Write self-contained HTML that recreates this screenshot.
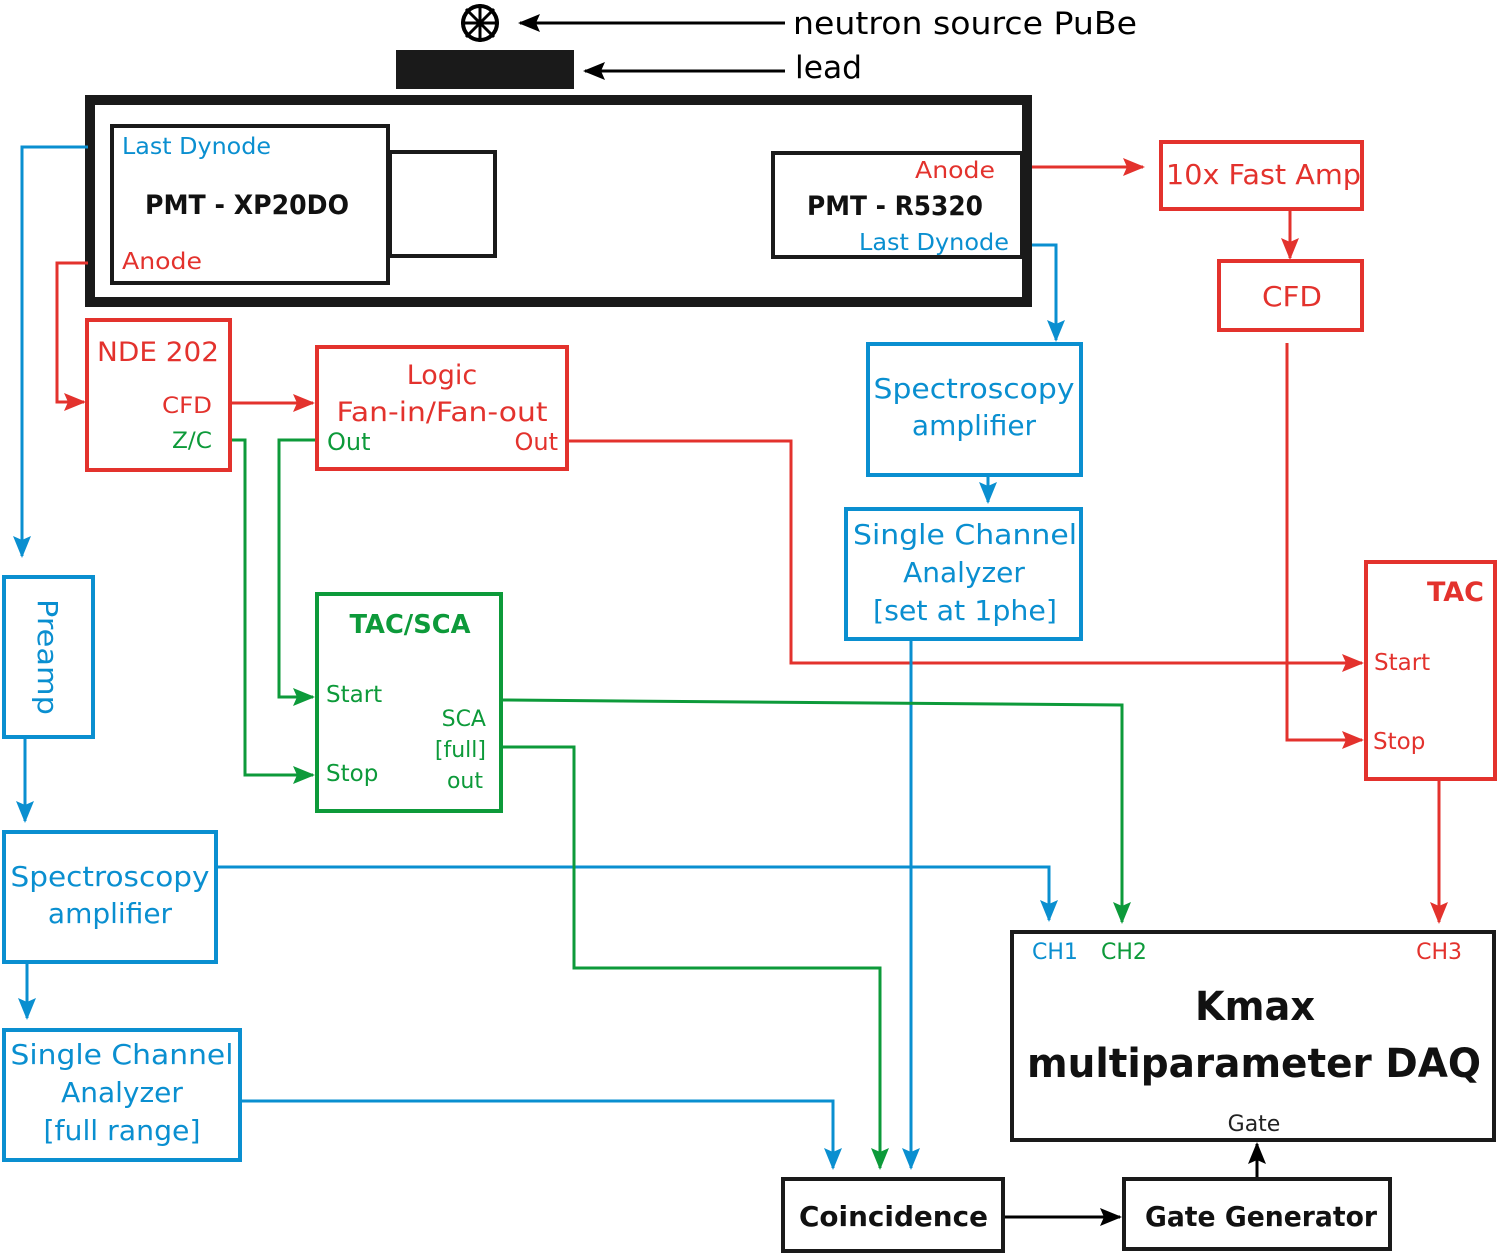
<!DOCTYPE html>
<html><head><meta charset="utf-8"><style>
html,body{margin:0;padding:0;background:#fff;}
svg{display:block;}
text{font-family:"DejaVu Sans","Liberation Sans",sans-serif;}
</style></head><body>
<svg width="1499" height="1256" viewBox="0 0 1499 1256" xmlns="http://www.w3.org/2000/svg">
<defs>
<marker id="ar" markerWidth="22" markerHeight="22" refX="20" refY="11" orient="auto" markerUnits="userSpaceOnUse"><path d="M0,2 L22,11 L0,20 L4,11 z" fill="#e3322d"/></marker>
<marker id="ab" markerWidth="22" markerHeight="22" refX="20" refY="11" orient="auto" markerUnits="userSpaceOnUse"><path d="M0,2 L22,11 L0,20 L4,11 z" fill="#0a8fd0"/></marker>
<marker id="ag" markerWidth="22" markerHeight="22" refX="20" refY="11" orient="auto" markerUnits="userSpaceOnUse"><path d="M0,2 L22,11 L0,20 L4,11 z" fill="#0d9a3a"/></marker>
<marker id="ak2" markerWidth="22" markerHeight="22" refX="20" refY="11" orient="auto" markerUnits="userSpaceOnUse"><path d="M0,2 L22,11 L0,20 L4,11 z" fill="#000"/></marker>
</defs>
<!-- top -->
<circle cx="480" cy="23" r="17" fill="none" stroke="#000" stroke-width="4"/>
<path d="M466,9 L494,37 M494,9 L466,37 M480,4 L480,42 M461,23 L499,23" stroke="#000" stroke-width="3"/>
<line x1="785" y1="23" x2="520" y2="23" stroke="#000" stroke-width="3" marker-end="url(#ak2)"/>
<text x="793" y="34" font-size="31" textLength="344" lengthAdjust="spacingAndGlyphs">neutron source PuBe</text>
<rect x="396" y="50" width="178" height="39" fill="#1a1a1a"/>
<line x1="785" y1="71" x2="585" y2="71" stroke="#000" stroke-width="3" marker-end="url(#ak2)"/>
<text x="795" y="78" font-size="31" textLength="67" lengthAdjust="spacingAndGlyphs">lead</text>
<!-- housing -->
<rect x="90" y="100" width="937" height="202" fill="none" stroke="#1a1a1a" stroke-width="10"/>
<rect x="112" y="126" width="276" height="157" fill="none" stroke="#1a1a1a" stroke-width="4"/>
<rect x="390" y="152" width="105" height="104" fill="none" stroke="#1a1a1a" stroke-width="4"/>
<text x="122" y="154" font-size="23" fill="#0a8fd0" textLength="149" lengthAdjust="spacingAndGlyphs">Last Dynode</text>
<text x="145" y="214" font-size="27" fill="#111" font-weight="bold" textLength="204" lengthAdjust="spacingAndGlyphs">PMT - XP20DO</text>
<text x="122" y="269" font-size="23" fill="#e3322d" textLength="80" lengthAdjust="spacingAndGlyphs">Anode</text>
<rect x="773" y="153" width="249" height="104" fill="#fff" stroke="#1a1a1a" stroke-width="4"/>
<text x="915" y="178" font-size="23" fill="#e3322d" textLength="80" lengthAdjust="spacingAndGlyphs">Anode</text>
<text x="807" y="215" font-size="27" fill="#111" font-weight="bold" textLength="176" lengthAdjust="spacingAndGlyphs">PMT - R5320</text>
<text x="859" y="250" font-size="23" fill="#0a8fd0" textLength="150" lengthAdjust="spacingAndGlyphs">Last Dynode</text>
<!-- red connectors -->
<polyline points="88,263 57,263 57,402 84,402" fill="none" stroke="#e3322d" stroke-width="3" marker-end="url(#ar)"/>
<line x1="231" y1="403" x2="313" y2="403" stroke="#e3322d" stroke-width="3" marker-end="url(#ar)"/>
<polyline points="568,441 791,441 791,663 1362,663" fill="none" stroke="#e3322d" stroke-width="3" marker-end="url(#ar)"/>
<line x1="1032" y1="167" x2="1143" y2="167" stroke="#e3322d" stroke-width="3" marker-end="url(#ar)"/>
<line x1="1290" y1="211" x2="1290" y2="258" stroke="#e3322d" stroke-width="3" marker-end="url(#ar)"/>
<polyline points="1287,343 1287,740 1362,740" fill="none" stroke="#e3322d" stroke-width="3" marker-end="url(#ar)"/>
<line x1="1439" y1="780" x2="1439" y2="922" stroke="#e3322d" stroke-width="3" marker-end="url(#ar)"/>
<!-- blue connectors -->
<polyline points="88,147 22,147 22,556" fill="none" stroke="#0a8fd0" stroke-width="3" marker-end="url(#ab)"/>
<polyline points="1032,245 1056,245 1056,340" fill="none" stroke="#0a8fd0" stroke-width="3" marker-end="url(#ab)"/>
<line x1="988" y1="476" x2="988" y2="502" stroke="#0a8fd0" stroke-width="3" marker-end="url(#ab)"/>
<line x1="911" y1="640" x2="911" y2="1168" stroke="#0a8fd0" stroke-width="3" marker-end="url(#ab)"/>
<line x1="25" y1="738" x2="25" y2="821" stroke="#0a8fd0" stroke-width="3" marker-end="url(#ab)"/>
<polyline points="217,867 1049,867 1049,920" fill="none" stroke="#0a8fd0" stroke-width="3" marker-end="url(#ab)"/>
<line x1="27" y1="963" x2="27" y2="1018" stroke="#0a8fd0" stroke-width="3" marker-end="url(#ab)"/>
<polyline points="241,1101 833,1101 833,1168" fill="none" stroke="#0a8fd0" stroke-width="3" marker-end="url(#ab)"/>
<!-- green connectors -->
<polyline points="231,440 245,440 245,775 313,775" fill="none" stroke="#0d9a3a" stroke-width="3" marker-end="url(#ag)"/>
<polyline points="316,440 279,440 279,697 313,697" fill="none" stroke="#0d9a3a" stroke-width="3" marker-end="url(#ag)"/>
<polyline points="502,700 1122,705 1122,922" fill="none" stroke="#0d9a3a" stroke-width="3" marker-end="url(#ag)"/>
<polyline points="502,747 574,747 574,968 880,968 880,1168" fill="none" stroke="#0d9a3a" stroke-width="3" marker-end="url(#ag)"/>
<!-- black connectors -->
<line x1="1004" y1="1217" x2="1120" y2="1217" stroke="#000" stroke-width="3" marker-end="url(#ak2)"/>
<line x1="1257" y1="1178" x2="1257" y2="1144" stroke="#000" stroke-width="3" marker-end="url(#ak2)"/>
<!-- red boxes -->
<rect x="87" y="320" width="143" height="150" fill="none" stroke="#e3322d" stroke-width="4"/>
<text x="97" y="361" font-size="27" fill="#e3322d" textLength="122" lengthAdjust="spacingAndGlyphs">NDE 202</text>
<text x="162" y="413" font-size="22" fill="#e3322d" textLength="50" lengthAdjust="spacingAndGlyphs">CFD</text>
<text x="172" y="448" font-size="22" fill="#0d9a3a" textLength="40" lengthAdjust="spacingAndGlyphs">Z/C</text>
<rect x="317" y="347" width="250" height="122" fill="none" stroke="#e3322d" stroke-width="4"/>
<text x="442" y="384" font-size="27" fill="#e3322d" text-anchor="middle">Logic</text>
<text x="442" y="421" font-size="27" fill="#e3322d" text-anchor="middle" textLength="211" lengthAdjust="spacingAndGlyphs">Fan-in/Fan-out</text>
<text x="327" y="450" font-size="24" fill="#0d9a3a">Out</text>
<text x="558" y="450" font-size="24" fill="#e3322d" text-anchor="end">Out</text>
<rect x="1161" y="142" width="201" height="67" fill="none" stroke="#e3322d" stroke-width="4"/>
<text x="1166" y="184" font-size="28" fill="#e3322d" textLength="195" lengthAdjust="spacingAndGlyphs">10x Fast Amp</text>
<rect x="1219" y="261" width="143" height="69" fill="none" stroke="#e3322d" stroke-width="4"/>
<text x="1262" y="306" font-size="28" fill="#e3322d" textLength="60" lengthAdjust="spacingAndGlyphs">CFD</text>
<rect x="1366" y="562" width="129" height="217" fill="none" stroke="#e3322d" stroke-width="4"/>
<text x="1484" y="601" font-size="27" fill="#e3322d" text-anchor="end" font-weight="bold">TAC</text>
<text x="1374" y="670" font-size="23" fill="#e3322d">Start</text>
<text x="1373" y="749" font-size="23" fill="#e3322d">Stop</text>
<!-- blue boxes -->
<rect x="868" y="344" width="213" height="131" fill="none" stroke="#0a8fd0" stroke-width="4"/>
<text x="974" y="398" font-size="28" fill="#0a8fd0" text-anchor="middle" textLength="201" lengthAdjust="spacingAndGlyphs">Spectroscopy</text>
<text x="974" y="435" font-size="28" fill="#0a8fd0" text-anchor="middle">amplifier</text>
<rect x="846" y="509" width="235" height="130" fill="none" stroke="#0a8fd0" stroke-width="4"/>
<text x="965" y="544" font-size="28" fill="#0a8fd0" text-anchor="middle" textLength="224" lengthAdjust="spacingAndGlyphs">Single Channel</text>
<text x="964" y="582" font-size="28" fill="#0a8fd0" text-anchor="middle">Analyzer</text>
<text x="965" y="620" font-size="28" fill="#0a8fd0" text-anchor="middle" textLength="184" lengthAdjust="spacingAndGlyphs">[set at 1phe]</text>
<rect x="4" y="577" width="89" height="160" fill="none" stroke="#0a8fd0" stroke-width="4"/>
<text transform="translate(38,657) rotate(90)" font-size="28" fill="#0a8fd0" text-anchor="middle" textLength="116" lengthAdjust="spacingAndGlyphs">Preamp</text>
<rect x="4" y="832" width="212" height="130" fill="none" stroke="#0a8fd0" stroke-width="4"/>
<text x="110" y="886" font-size="28" fill="#0a8fd0" text-anchor="middle" textLength="199" lengthAdjust="spacingAndGlyphs">Spectroscopy</text>
<text x="110" y="923" font-size="28" fill="#0a8fd0" text-anchor="middle">amplifier</text>
<rect x="4" y="1030" width="236" height="130" fill="none" stroke="#0a8fd0" stroke-width="4"/>
<text x="122" y="1064" font-size="28" fill="#0a8fd0" text-anchor="middle" textLength="223" lengthAdjust="spacingAndGlyphs">Single Channel</text>
<text x="122" y="1102" font-size="28" fill="#0a8fd0" text-anchor="middle">Analyzer</text>
<text x="122" y="1140" font-size="28" fill="#0a8fd0" text-anchor="middle" textLength="157" lengthAdjust="spacingAndGlyphs">[full range]</text>
<!-- green box -->
<rect x="317" y="594" width="184" height="217" fill="none" stroke="#0d9a3a" stroke-width="4"/>
<text x="410" y="633" font-size="26" fill="#0d9a3a" text-anchor="middle" font-weight="bold" textLength="121" lengthAdjust="spacingAndGlyphs">TAC/SCA</text>
<text x="326" y="702" font-size="23" fill="#0d9a3a">Start</text>
<text x="326" y="781" font-size="23" fill="#0d9a3a">Stop</text>
<text x="486" y="726" font-size="22" fill="#0d9a3a" text-anchor="end">SCA</text>
<text x="486" y="757" font-size="22" fill="#0d9a3a" text-anchor="end">[full]</text>
<text x="483" y="788" font-size="22" fill="#0d9a3a" text-anchor="end">out</text>
<!-- black boxes -->
<rect x="1012" y="932" width="482" height="208" fill="none" stroke="#1a1a1a" stroke-width="4"/>
<text x="1032" y="959" font-size="22" fill="#0a8fd0">CH1</text>
<text x="1101" y="959" font-size="22" fill="#0d9a3a">CH2</text>
<text x="1462" y="959" font-size="22" fill="#e3322d" text-anchor="end">CH3</text>
<text x="1195" y="1020" font-size="40" fill="#111" font-weight="bold" textLength="120" lengthAdjust="spacingAndGlyphs">Kmax</text>
<text x="1027" y="1077" font-size="40" fill="#111" font-weight="bold" textLength="454" lengthAdjust="spacingAndGlyphs">multiparameter DAQ</text>
<text x="1254" y="1131" font-size="22" fill="#222" text-anchor="middle">Gate</text>
<rect x="783" y="1179" width="220" height="72" fill="none" stroke="#1a1a1a" stroke-width="4"/>
<text x="799" y="1226" font-size="28" fill="#111" font-weight="bold" textLength="189" lengthAdjust="spacingAndGlyphs">Coincidence</text>
<rect x="1124" y="1179" width="266" height="70" fill="none" stroke="#1a1a1a" stroke-width="4"/>
<text x="1145" y="1226" font-size="28" fill="#111" font-weight="bold" textLength="232" lengthAdjust="spacingAndGlyphs">Gate Generator</text>
</svg>
</body></html>
